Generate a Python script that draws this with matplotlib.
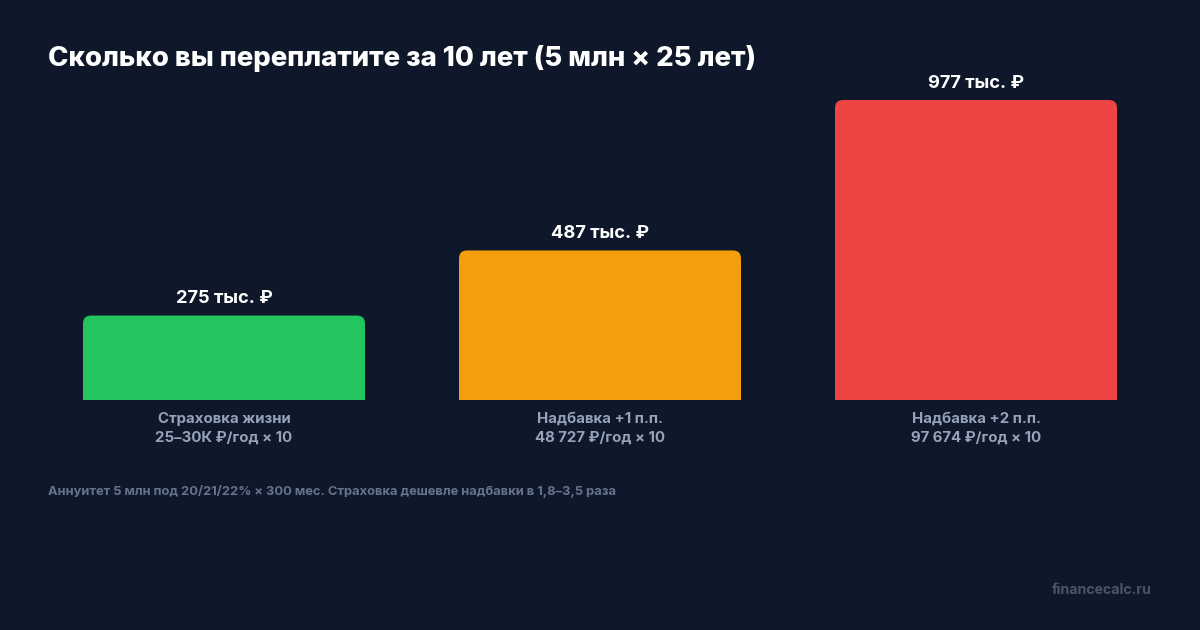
import matplotlib
matplotlib.use("Agg")
import matplotlib.pyplot as plt
from matplotlib.patches import FancyBboxPatch, Rectangle

# ---- data ----
categories = ["Страховка жизни", "Надбавка +1 п.п.", "Надбавка +2 п.п."]
subtitles = ["25–30К ₽/год × 10", "48 727 ₽/год × 10", "97 674 ₽/год × 10"]
values = [275, 487, 977]
value_labels = ["275 тыс. ₽", "487 тыс. ₽", "977 тыс. ₽"]
colors = ["#22c55e", "#f59e0b", "#ef4444"]
title = "Сколько вы переплатите за 10 лет (5 млн × 25 лет)"
footnote = "Аннуитет 5 млн под 20/21/22% × 300 мес. Страховка дешевле надбавки в 1,8–3,5 раза"
watermark = "financecalc.ru"

BG = "#0f172a"
FONT = ["Inter", "DejaVu Sans"]
plt.rcParams["font.family"] = FONT

W, H = 1200, 630
fig = plt.figure(figsize=(W / 100, H / 100), dpi=100, facecolor=BG)

# axes placed in pixel geometry: left 83, right 1117, bottom 400, top 100
ax_l, ax_r, ax_b, ax_t = 83, 1117, 400, 100
ax = fig.add_axes([ax_l / W, 1 - ax_b / H, (ax_r - ax_l) / W, (ax_b - ax_t) / H])
ax.set_facecolor(BG)
bw = 0.75
x = list(range(len(values)))
ax.set_xlim(-bw / 2, len(values) - 1 + bw / 2)
ax.set_ylim(0, max(values))
ax.axis("off")

bars = ax.bar(x, values, width=bw, color=colors, linewidth=0)

# rounded top corners
px_per_x = (ax_r - ax_l) / (ax.get_xlim()[1] - ax.get_xlim()[0])
px_per_y = (ax_b - ax_t) / (ax.get_ylim()[1] - ax.get_ylim()[0])
r_px = 8
rx = r_px / px_per_x
ry = r_px / px_per_y
for b, c in zip(bars, colors):
    b.set_visible(False)
    bx, by, bwid, bh = b.get_x(), b.get_y(), b.get_width(), b.get_height()
    p = FancyBboxPatch((bx, by), bwid, bh,
                       boxstyle=f"round,pad=0,rounding_size={rx}",
                       mutation_aspect=ry / rx, facecolor=c, edgecolor="none")
    ax.add_patch(p)
    ax.add_patch(Rectangle((bx, by), bwid, bh / 2, facecolor=c, edgecolor="none"))

for xi, v, lab in zip(x, values, value_labels):
    ax.annotate(lab, (xi, v), xytext=(0, 17), textcoords="offset pixels",
                ha="center", va="center", color="white", fontsize=13.2,
                fontweight="bold", annotation_clip=False)

for xi, cat, sub in zip(x, categories, subtitles):
    ax.annotate(cat, (xi, 0), xytext=(0, -19), textcoords="offset pixels",
                ha="center", va="center", color="#94a3b8", fontsize=10.8,
                fontweight="bold", annotation_clip=False)
    ax.annotate(sub, (xi, 0), xytext=(0, -38), textcoords="offset pixels",
                ha="center", va="center", color="#94a3b8", fontsize=10.8,
                fontweight="bold", annotation_clip=False)

fig.text(48 / W, 1 - 58 / H, title, ha="left", va="center", color="white",
         fontsize=19.8, fontweight="heavy")
fig.text(48 / W, 1 - 491 / H, footnote, ha="left", va="center", color="#64748b",
         fontsize=9.3, fontweight="bold")
fig.text(1152 / W, 1 - 590 / H, watermark, ha="right", va="center", color="#475569",
         fontsize=10.2, fontweight="bold")

fig.savefig("out.png", dpi=100, facecolor=BG)
